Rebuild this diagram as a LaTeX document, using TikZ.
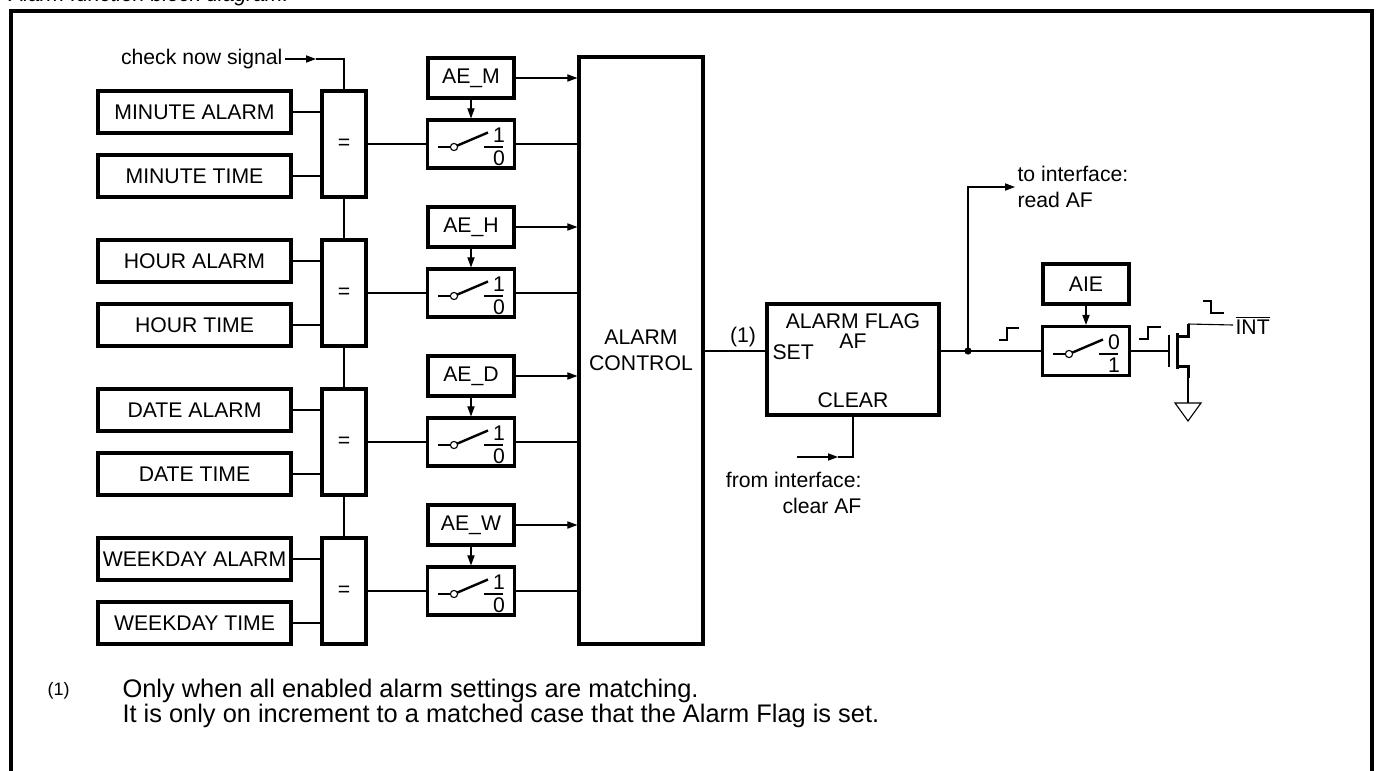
\documentclass[tikz,border=0pt]{standalone}
\usepackage{fontspec}
\setmainfont{Liberation Sans}
\usetikzlibrary{arrows.meta}
\tikzset{
  pics/swsym/.style 2 args={code={
    \draw (-33,3) -- (-17,3);
    \draw[line width=1.2pt] (-17,3) -- (17,-11.5);
    \draw[fill=white] (-17,3) circle (1.8pt);
    \draw (13,3) -- (32,3);
    \node (up) at (28,-9) {#1};
    \node (dn) at (28,14) {#2};
  }}
}
\begin{document}
\begin{tikzpicture}[x=0.5pt,y=-0.5pt,line width=0.55pt,
  every node/.style={font=\fontsize{10.6}{12.7}\selectfont,inner sep=1pt},
  blk/.style={draw,line width=1.6pt,inner sep=0pt},
  inbox/.style={blk,minimum width=96.5pt,minimum height=21pt},
  cmpbox/.style={blk,minimum width=22pt,minimum height=53pt},
  swbox/.style={blk,minimum width=43.5pt,minimum height=24pt},
  aebox/.style={blk,minimum width=43pt,minimum height=20pt},
  arr/.style={-{Triangle[length=5pt,width=3.6pt]}}]
\useasboundingbox (0,0) rectangle (1378,771);
\node[anchor=base west,inner sep=0pt,font=\itshape\fontsize{10.6}{12}\selectfont] (title) at (9,2) {Alarm function block diagram.};
\draw[line width=2.2pt] (11,790) -- (11,11) -- (1372,11) -- (1372,790);

\node[blk,minimum width=62pt,minimum height=293.5pt,align=center] (ctrl) at (641,350.5) {ALARM\\CONTROL};

\foreach \i/\nm/\ae in {0/MINUTE/M,1/HOUR/H,2/DATE/D,3/WEEKDAY/W}{
  \pgfmathsetmacro\yy{149*\i}
  \node[inbox] (alm\i) at (194.5,112+\yy) {\nm\ ALARM};
  \node[inbox] (tim\i) at (194.5,176+\yy) {\nm\ TIME};
  \node[cmpbox] (cmp\i) at (344,144+\yy) {=};
  \node[swbox] (sw\i) at (471,144+\yy) {};
  \node[aebox] (ae\i) at (471,78+\yy) {AE\_\ae};
  \draw (alm\i.east) -- (alm\i.east -| cmp\i.west);
  \draw (tim\i.east) -- (tim\i.east -| cmp\i.west);
  \draw (cmp\i.east) -- (sw\i.west);
  \draw[arr] (ae\i.south) -- (sw\i.north);
  \draw[arr] (ae\i.east) -- (ae\i.east -| ctrl.west);
  \draw (sw\i.east) -- (sw\i.east -| ctrl.west);
  \pic at (sw\i) {swsym={1}{0}};
}

\node[anchor=east] (chk) at (285,59) {check now signal};
\coordinate (chka) at (316,59);
\draw[arr] (chk.east) -- (chka);
\draw (chka) -- (chk.east -| cmp0.north) -- (cmp0.north);
\foreach \i [evaluate=\i as \j using int(\i-1)] in {1,2,3}
  \draw (cmp\j.south) -- (cmp\i.north);

\node[blk,minimum width=86pt,minimum height=55.5pt] (flag) at (853,359.5) {};
\node[align=center] (flagtxt) at (853,331) {ALARM FLAG\\[-3pt]AF};
\node[anchor=west] (set) at (770,352) {SET};
\node (clr) at (853,400) {CLEAR};
\node (one) at (743,337) {(1)};
\draw (ctrl.east |- 0,351) -- (flag.west |- 0,351);

\coordinate (clrs) at (797,457);
\coordinate (clra) at (838,457);
\draw[arr] (clrs) -- (clra);
\draw (clra) -- (flag.south |- clra) -- (flag.south);
\node[anchor=north east,align=right] (from) at (864,470) {from interface:\\clear AF};

\node[swbox,minimum height=24.5pt] (swi) at (1086,351) {};
\node[aebox] (aie) at (1086,284) {AIE};
\draw[arr] (aie) -- (swi);
\pic at (swi) {swsym={0}{1}};

\coordinate (dot) at (968,351);
\draw (flag.east |- dot) -- (swi.west);
\fill (dot) circle (1.8pt);
\node[anchor=west,align=left] (to) at (1015,187) {to interface:\\read AF};
\draw[arr] (dot) -- (dot |- to) -- (to.west);

\draw (999,340) -- (1007,340) -- (1007,328) -- (1019,328);
\draw (1139,339) -- (1148,339) -- (1148,327) -- (1161,327);
\draw (1203,301) -- (1211,301) -- (1211,313) -- (1224,313);

\coordinate (gate) at (1169,351);
\draw (swi.east) -- (gate);
\draw[line width=1.1pt] (1169,335) -- (1169,367);
\draw[line width=1.5pt] (1177,333) -- (1177,369);
\draw[line width=1.5pt] (1177,336) -- (1188,336) -- (1188,324);
\draw[line width=1.5pt] (1177,366) -- (1188,366) -- (1188,378);
\node[anchor=west] (int) at (1233,325) {$\overline{\hbox{INT}}$};
\draw (1188,324) -- (int.west);
\draw (1188,378) -- (1188,403);
\draw (1175,403) -- (1201,403) -- (1188,421) -- cycle;

\node[anchor=base west,inner sep=0pt,font=\fontsize{9}{11}\selectfont] (fn) at (47,695) {(1)};
\node[anchor=base west,inner sep=0pt,font=\fontsize{12.7}{15}\selectfont] (fn1) at (122,697) {Only when all enabled alarm settings are matching.};
\node[anchor=base west,inner sep=0pt,font=\fontsize{12.7}{15}\selectfont] (fn2) at (122,722) {It is only on increment to a matched case that the Alarm Flag is set.};
\end{tikzpicture}
\end{document}
